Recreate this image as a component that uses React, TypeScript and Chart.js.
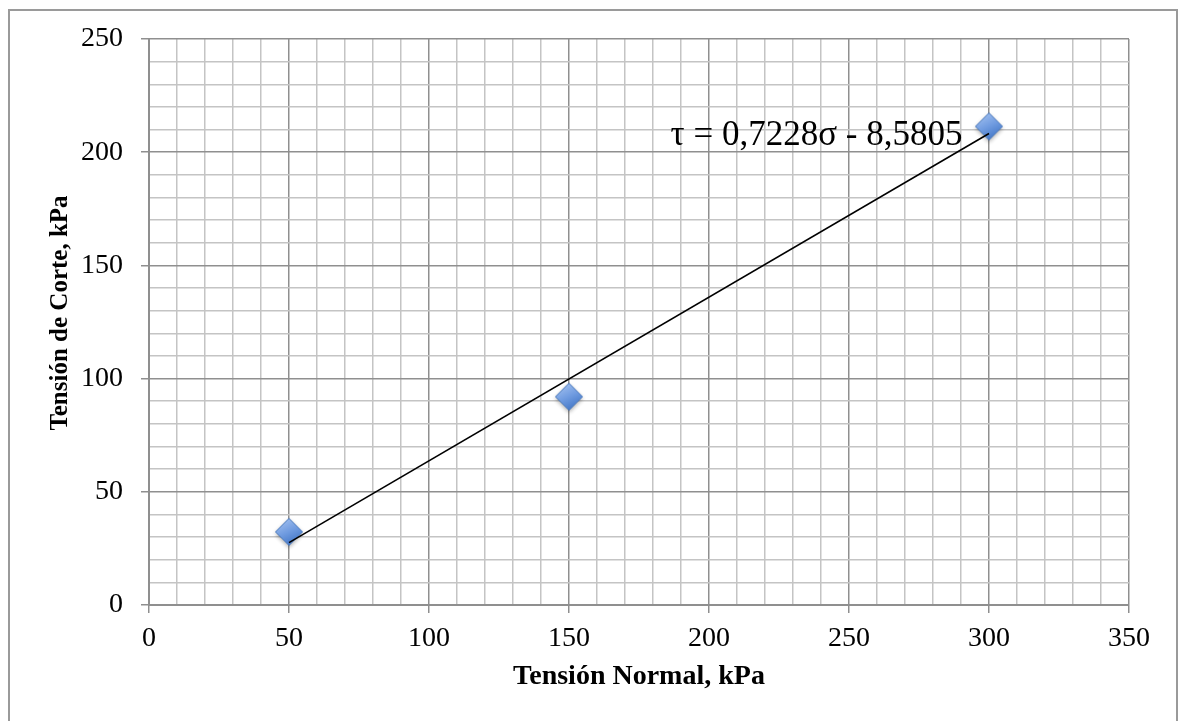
import React, { useEffect, useRef } from "react";
import { Chart, registerables } from "chart.js";

Chart.register(...registerables);

// ---- data ----
const normalStress = [50, 150, 300];
const shearStress = [32.3, 92, 211.4];
const trendSlope = 0.7228;
const trendIntercept = -8.5805;
const trendRange = [50, 300];
const equationText = "τ = 0,7228σ - 8,5805";
const equationAnchor = [290.5, 203.2]; // data coords: right end, baseline
const xTitle = "Tensión Normal, kPa";
const yTitle = "Tensión de Corte, kPa";
const xRange = [0, 350];
const yRange = [0, 250];
const minorStep = 10;
const majorStep = 50;

const FONT = "'Liberation Serif', 'Times New Roman', serif";

function makeDiamond(): HTMLCanvasElement {
  const s = 42;
  const c = document.createElement("canvas");
  c.width = s;
  c.height = s;
  const g = c.getContext("2d")!;
  const r = 13.5;
  const cx = s / 2;
  const cy = s / 2;
  const path = () => {
    g.beginPath();
    g.moveTo(cx, cy - r);
    g.lineTo(cx + r, cy);
    g.lineTo(cx, cy + r);
    g.lineTo(cx - r, cy);
    g.closePath();
  };
  const grad = g.createLinearGradient(cx - r / 2, cy - r, cx + r / 2, cy + r);
  grad.addColorStop(0, "#a3c1f0");
  grad.addColorStop(0.5, "#6f9be0");
  grad.addColorStop(1, "#3d72c4");
  g.save();
  g.shadowColor = "rgba(0,0,0,0.35)";
  g.shadowBlur = 4;
  g.shadowOffsetY = 2;
  path();
  g.fillStyle = grad;
  g.fill();
  g.restore();
  path();
  g.lineWidth = 1;
  g.strokeStyle = "#4677bd";
  g.stroke();
  return c;
}

const isMajor = (v: number) => Math.abs(v % majorStep) < 1e-6;

export default function App() {
  const ref = useRef<HTMLCanvasElement | null>(null);

  useEffect(() => {
    if (!ref.current) return;
    const diamond = makeDiamond();

    const framePlugin = {
      id: "frame",
      beforeDraw(chart: any) {
        const ctx = chart.ctx;
        ctx.save();
        ctx.fillStyle = "#ffffff";
        ctx.fillRect(0, 0, chart.width, chart.height);
        ctx.restore();
      },
      afterDraw(chart: any) {
        const ctx = chart.ctx;
        ctx.save();
        ctx.strokeStyle = "#9a9a9a";
        ctx.lineWidth = 2;
        ctx.beginPath();
        ctx.moveTo(9, chart.height + 2);
        ctx.lineTo(9, 10);
        ctx.lineTo(1177, 10);
        ctx.lineTo(1177, chart.height + 2);
        ctx.stroke();
        ctx.restore();
      },
    };

    const textPlugin = {
      id: "texts",
      afterDatasetsDraw(chart: any) {
        const ctx = chart.ctx;
        const xs = chart.scales.x;
        const ys = chart.scales.y;
        const area = chart.chartArea;
        ctx.save();
        ctx.font = `35px ${FONT}`;
        ctx.fillStyle = "#000000";
        ctx.textAlign = "right";
        ctx.textBaseline = "alphabetic";
        ctx.fillText(
          equationText,
          xs.getPixelForValue(equationAnchor[0]),
          ys.getPixelForValue(equationAnchor[1])
        );
        ctx.restore();

        // y-axis title
        ctx.save();
        ctx.translate(61, (area.top + area.bottom) / 2 - 9);
        ctx.rotate(-Math.PI / 2);
        ctx.font = `bold 25px ${FONT}`;
        ctx.fillStyle = "#000000";
        ctx.textAlign = "center";
        ctx.textBaseline = "middle";
        ctx.fillText(yTitle, 0, 0);
        ctx.restore();
      },
    };

    const gridColor = (ctx: any) =>
      ctx.tick && isMajor(ctx.tick.value) ? "#8f8f8f" : "#c4c4c4";
    const tickColor = (ctx: any) =>
      ctx.tick && isMajor(ctx.tick.value) ? "#8f8f8f" : "rgba(0,0,0,0)";
    const label = (v: any) => (isMajor(Number(v)) ? String(v) : "");

    const chart = new Chart(ref.current, {
      type: "scatter",
      data: {
        datasets: [
          {
            label: "Trend",
            type: "line",
            data: trendRange.map((x) => ({ x, y: trendSlope * x + trendIntercept })),
            borderColor: "#000000",
            borderWidth: 1.6,
            pointRadius: 0,
            fill: false,
            order: 0,
          },
          {
            label: "Datos",
            data: normalStress.map((x, i) => ({ x, y: shearStress[i] })),
            pointStyle: diamond as any,
            pointRadius: 13,
            order: 1,
          },
        ],
      },
      options: {
        responsive: false,
        animation: false,
        layout: { padding: { left: 0, right: 49, top: 39, bottom: 0 } },
        plugins: {
          legend: { display: false },
          tooltip: { enabled: false },
        },
        scales: {
          x: {
            type: "linear",
            min: xRange[0],
            max: xRange[1],
            afterFit: (s: any) => {
              s.height = 116;
            },
            ticks: {
              stepSize: minorStep,
              autoSkip: false,
              maxRotation: 0,
              padding: 9,
              color: "#000000",
              font: { family: FONT, size: 28 },
              callback: label,
            },
            grid: {
              color: gridColor,
              tickColor: tickColor,
              lineWidth: 1.5,
              tickLength: 8,
              tickWidth: 1.5,
            },
            border: { color: "#8f8f8f", width: 2 },
            title: {
              display: true,
              text: xTitle,
              color: "#000000",
              font: { family: FONT, size: 28, weight: "bold" },
              padding: { top: 0, bottom: 27 },
            },
          },
          y: {
            type: "linear",
            min: yRange[0],
            max: yRange[1],
            afterFit: (s: any) => {
              s.width = 149;
            },
            ticks: {
              stepSize: minorStep,
              autoSkip: false,
              padding: 18,
              color: "#000000",
              font: { family: FONT, size: 28 },
              callback: label,
            },
            grid: {
              color: gridColor,
              tickColor: tickColor,
              lineWidth: 1.5,
              tickLength: 8,
              tickWidth: 1.5,
            },
            border: { color: "#8f8f8f", width: 2 },
            title: { display: false },
          },
        },
      } as any,
      plugins: [framePlugin, textPlugin],
    });

    return () => chart.destroy();
  }, []);

  return (
    <div style={{ position: "fixed", left: 0, top: 0, width: 1178, height: 721, background: "#fff" }}>
      <canvas ref={ref} width={1178} height={721} style={{ display: "block", width: 1178, height: 721 }} />
    </div>
  );
}
